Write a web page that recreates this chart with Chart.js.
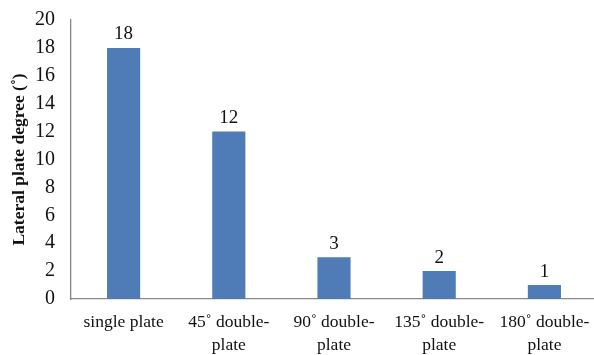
<!DOCTYPE html>
<html>
<head>
<meta charset="utf-8">
<script src="https://cdn.jsdelivr.net/npm/chart.js@4"></script>
<style>
    html, body { margin: 0; padding: 0; background: #fff; overflow: hidden; }
    #wrap { width: 600px; height: 355px; }
</style>
</head>
<body>
<div id="wrap"><canvas id="plateChart"></canvas></div>
<script>
const categories = [
    ['single plate'],
    ['45\u02DA double-', 'plate'],
    ['90\u02DA double-', 'plate'],
    ['135\u02DA double-', 'plate'],
    ['180\u02DA double-', 'plate']
];
const degrees = [18, 12, 3, 2, 1];
const yTicks = [0, 2, 4, 6, 8, 10, 12, 14, 16, 18, 20];

const serif = '"Liberation Serif", "DejaVu Serif", serif';

// draw the value above each bar
const valueLabels = {
    id: 'valueLabels',
    afterDatasetsDraw(chart) {
        const ctx = chart.ctx;
        const meta = chart.getDatasetMeta(0);
        ctx.save();
        ctx.font = '19px ' + serif;
        ctx.fillStyle = '#111';
        ctx.textAlign = 'center';
        ctx.textBaseline = 'bottom';
        meta.data.forEach((bar, i) => {
            ctx.fillText(String(degrees[i]), bar.x, bar.y - 4);
        });
        ctx.restore();
    }
};

new Chart(document.getElementById('plateChart').getContext('2d'), {
    type: 'bar',
    data: {
        labels: categories,
        datasets: [{
            data: degrees,
            backgroundColor: '#4f7bb7',
            categoryPercentage: 1,
            barPercentage: 0.315
        }]
    },
    options: {
        responsive: true,
        maintainAspectRatio: false,
        animation: false,
        layout: { padding: { top: 17, right: 3, left: 2, bottom: 0 } },
        plugins: {
            legend: { display: false },
            tooltip: { enabled: false }
        },
        scales: {
            x: {
                grid: { display: false },
                border: { display: true, color: '#888', width: 1.3 },
                ticks: {
                    color: '#111',
                    font: { family: serif, size: 17.5, lineHeight: 1.3 },
                    padding: 4,
                    maxRotation: 0,
                    autoSkip: false
                },
                afterFit(scale) { scale.height = 56; }
            },
            y: {
                min: 0,
                max: 20,
                afterBuildTicks(scale) { scale.ticks = yTicks.map(v => ({ value: v })); },
                grid: { display: false },
                border: { display: true, color: '#888', width: 1.3 },
                ticks: {
                    color: '#111',
                    font: { family: serif, size: 20 },
                    padding: 8
                },
                title: {
                    display: true,
                    text: 'Lateral plate degree (\u02DA)',
                    color: '#111',
                    font: { family: serif, size: 17.5, weight: 'bold' },
                    padding: { top: 7, bottom: 0 }
                },
                afterFit(scale) { scale.width = 69; }
            }
        }
    },
    plugins: [valueLabels]
});
</script>
</body>
</html>
